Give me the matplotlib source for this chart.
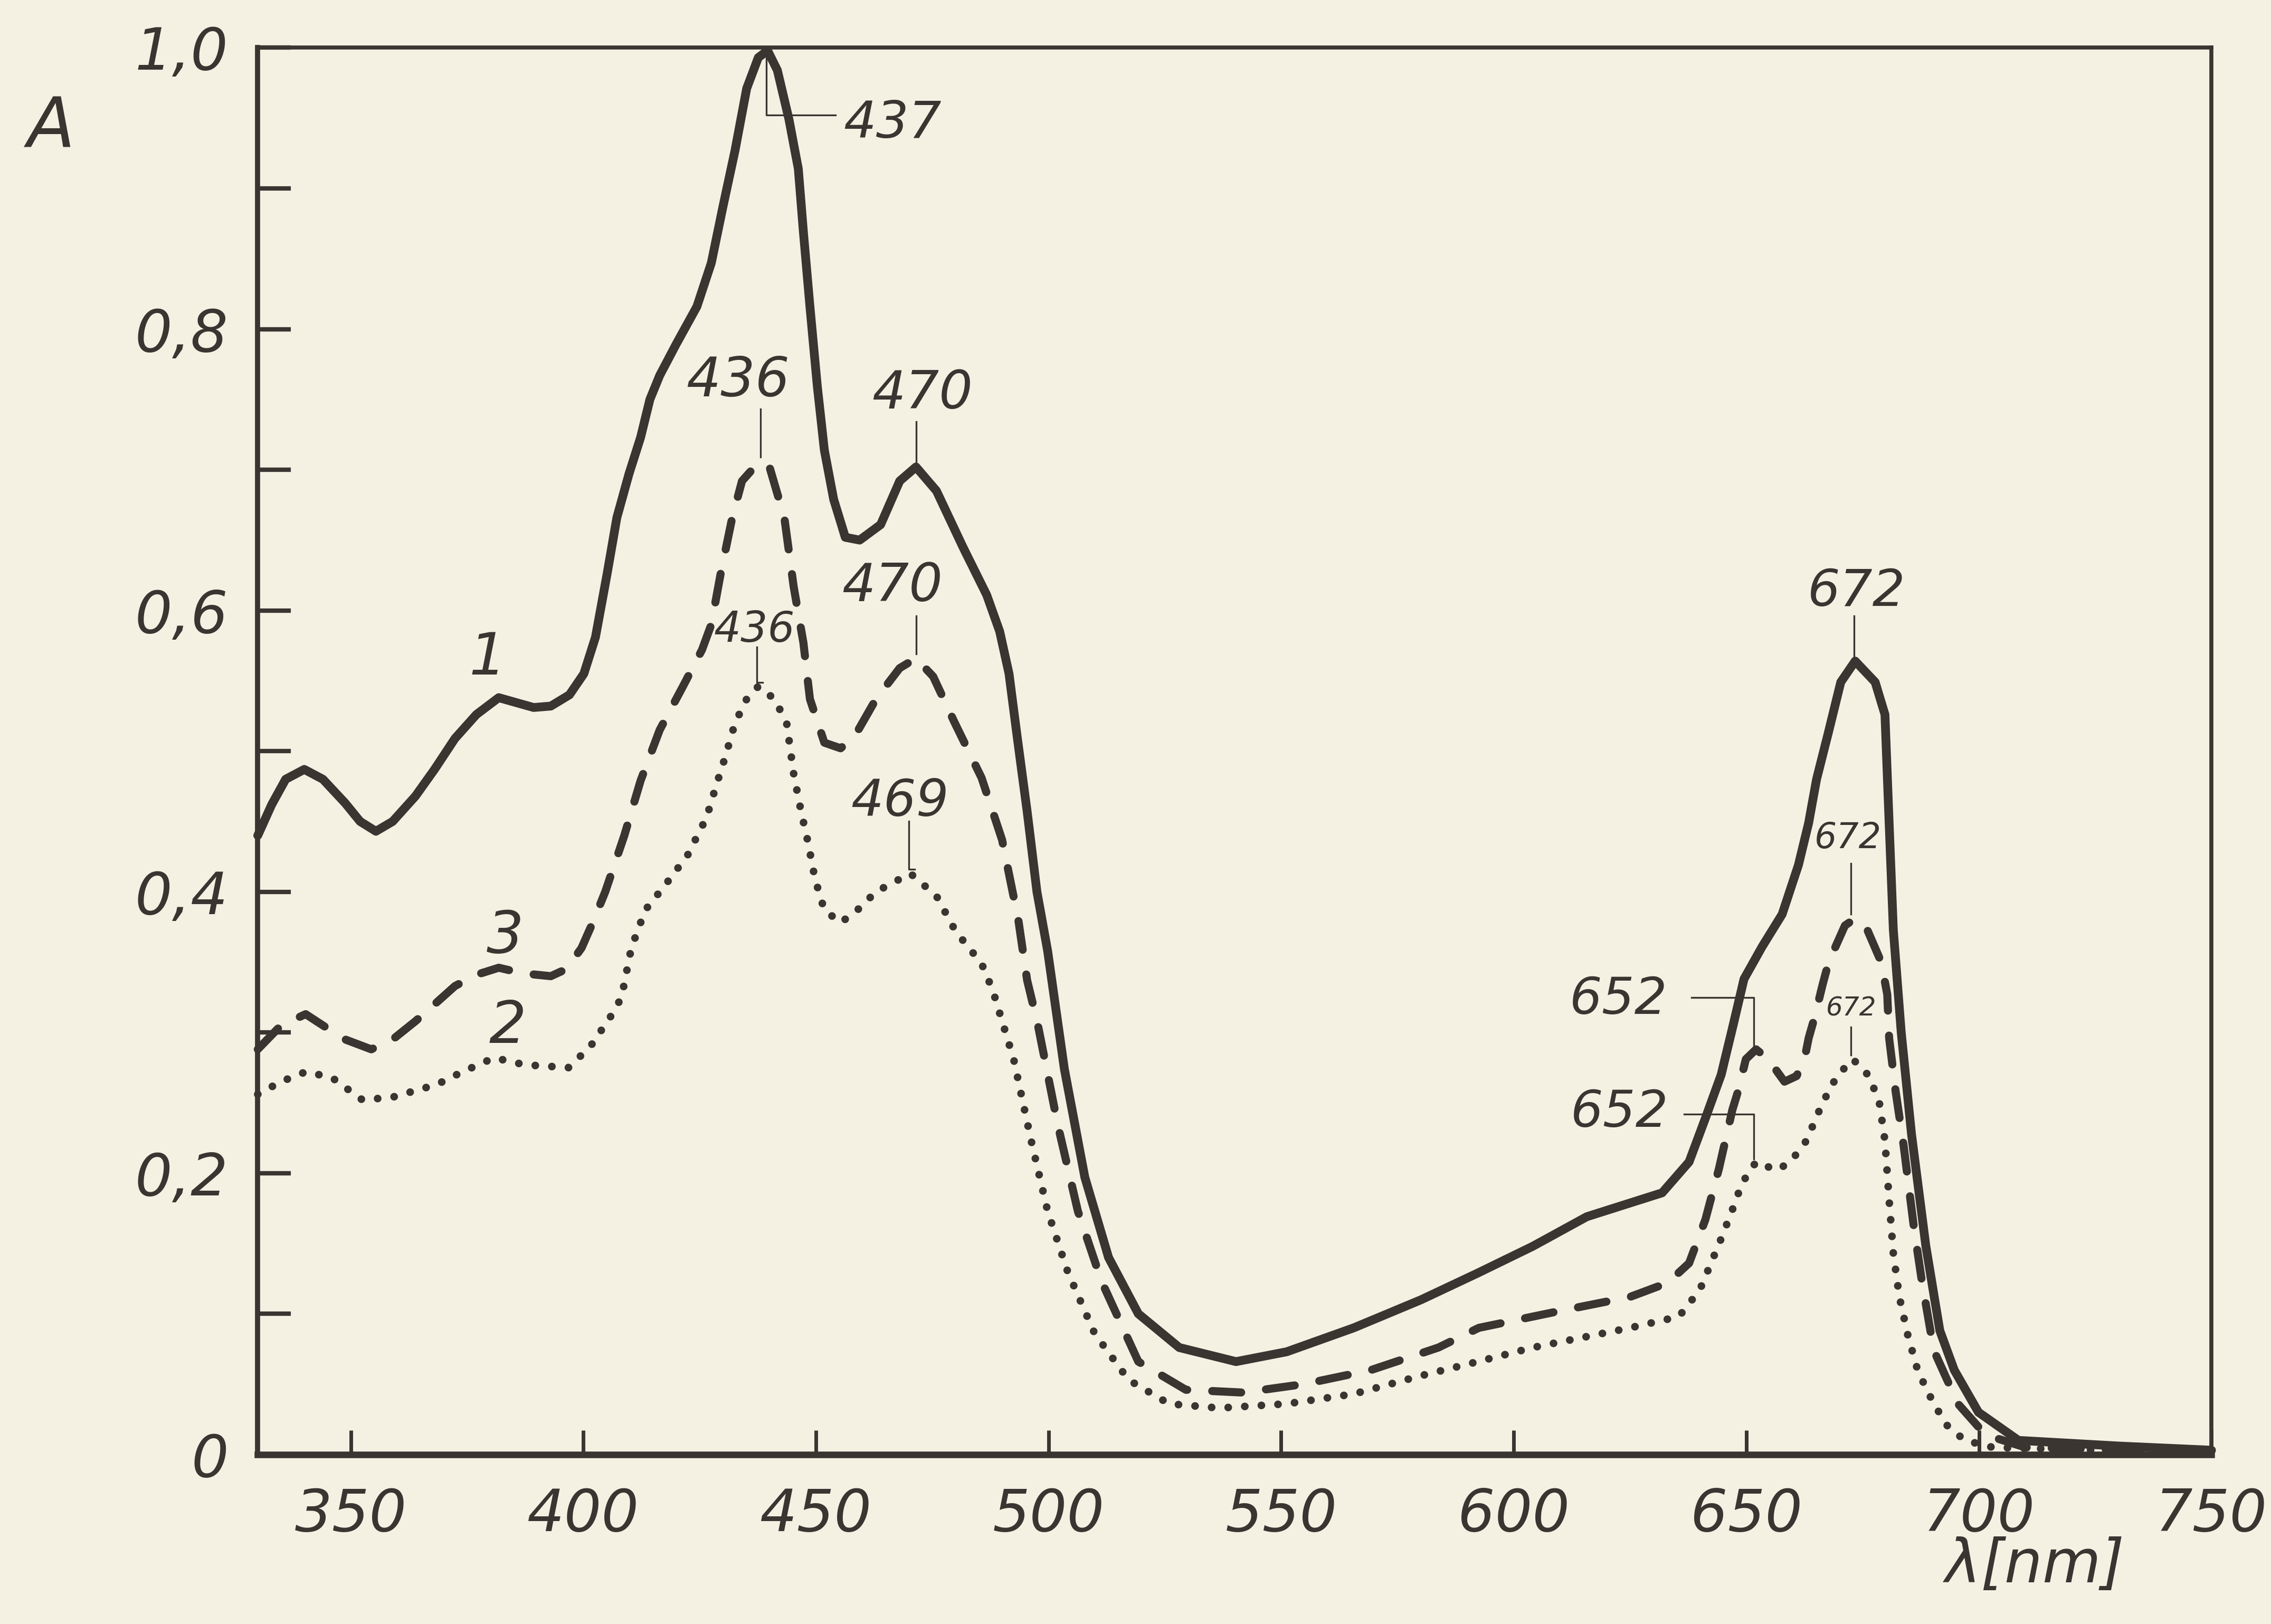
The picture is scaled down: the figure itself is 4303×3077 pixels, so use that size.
import matplotlib
matplotlib.use("Agg")
import matplotlib.pyplot as plt
from matplotlib.ticker import FixedLocator, FuncFormatter

# ---------------- data ----------------
# curve 1 (solid)
wl1 = [330, 333, 336, 340, 344, 348.8, 352, 355.4, 359, 363.9, 368, 372.4, 377, 381.8,
       385, 389.3, 393, 397, 400.1, 402.6, 405.1, 407.2, 409.8, 412.3, 414.3, 416.4,
       419.9, 424.4, 427.5, 430, 432.6, 435.1, 437.6, 439.6, 441.7, 444.2, 446.2, 447.3,
       448.7, 450.3, 451.8, 453.8, 456.3, 459.4, 463.9, 468, 471.5, 475.9, 481.6, 486.7,
       489.5, 491.5, 493.3, 495.4, 497.5, 499.8, 501.3, 503.4, 507.8, 512.9, 519.3, 528.1,
       540.3, 551.2, 565.6, 580.1, 592.3, 604.1, 615.7, 631.9, 637.7, 641.2, 644.6, 647.3,
       649.5, 653.4, 657.7, 661.2, 663.4, 665.1, 667.7, 670.3, 673.4, 677.7, 679.8, 680.7,
       681.6, 683.3, 685.5, 688.6, 691.6, 694.7, 699.9, 708.5, 730, 750]
a1 = [0.440, 0.462, 0.480, 0.487, 0.480, 0.463, 0.450, 0.443, 0.450, 0.468, 0.487, 0.509,
      0.526, 0.538, 0.535, 0.531, 0.532, 0.540, 0.555, 0.581, 0.626, 0.666, 0.697, 0.723,
      0.750, 0.767, 0.789, 0.816, 0.847, 0.887, 0.927, 0.971, 0.993, 0.998, 0.984, 0.949,
      0.914, 0.869, 0.816, 0.759, 0.714, 0.679, 0.652, 0.650, 0.661, 0.692, 0.702, 0.685,
      0.645, 0.611, 0.585, 0.555, 0.509, 0.457, 0.400, 0.358, 0.323, 0.274, 0.197, 0.140,
      0.100, 0.076, 0.066, 0.073, 0.090, 0.110, 0.129, 0.148, 0.169, 0.186, 0.208, 0.239,
      0.270, 0.307, 0.338, 0.361, 0.384, 0.419, 0.449, 0.480, 0.514, 0.549, 0.564, 0.549,
      0.526, 0.449, 0.373, 0.300, 0.228, 0.148, 0.088, 0.060, 0.030, 0.010, 0.006, 0.003]

# curve 3 (dashed)
wl3 = [330, 335, 340.3, 344, 348.8, 354.4, 359, 363.9, 368, 372.4, 377, 381.8, 387, 393,
       396.3, 399.6, 402, 404.7, 408.8, 412.3, 416.4, 421.4, 425.5, 427.5, 429.5, 432,
       434.1, 437.6, 440.1, 443.2, 445.2, 447.3, 448.7, 451.8, 455.3, 458.4, 462.9, 468,
       471.5, 475.2, 479.7, 485.6, 490, 493.5, 495.4, 497.6, 502, 506.3, 511.4, 519.3,
       529.5, 541.8, 554.9, 569.3, 583.8, 592.5, 609.9, 625, 633.1, 637.7, 641.2, 644.1,
       647, 648.2, 649.9, 652.1, 654.7, 658.2, 660.8, 662.5, 663.4, 664.7, 666.4, 667.7,
       671.2, 673.4, 676, 679, 680.3, 680.7, 682.1, 683.8, 686, 687.7, 690.3, 695.5, 701.4,
       710, 750]
a3 = [0.288, 0.305, 0.313, 0.305, 0.295, 0.288, 0.295, 0.308, 0.320, 0.333, 0.341, 0.346,
      0.342, 0.340, 0.345, 0.360, 0.378, 0.400, 0.440, 0.479, 0.515, 0.546, 0.572, 0.590,
      0.626, 0.666, 0.692, 0.705, 0.701, 0.666, 0.617, 0.577, 0.537, 0.506, 0.502, 0.511,
      0.537, 0.559, 0.566, 0.553, 0.521, 0.481, 0.437, 0.380, 0.337, 0.307, 0.234, 0.173,
      0.123, 0.066, 0.046, 0.044, 0.050, 0.060, 0.076, 0.090, 0.102, 0.112, 0.122, 0.136,
      0.167, 0.203, 0.245, 0.258, 0.281, 0.288, 0.281, 0.265, 0.269, 0.281, 0.296, 0.311,
      0.334, 0.350, 0.376, 0.381, 0.373, 0.350, 0.327, 0.296, 0.258, 0.220, 0.162, 0.124,
      0.074, 0.036, 0.014, 0.005, 0.002]

# curve 2 (dotted)
wl2 = [330, 335, 340.3, 345.9, 352.5, 359, 368.5, 374, 380.8, 387.4, 396.8, 401.5, 406.2,
       408.2, 410.3, 413.3, 417.4, 422.4, 426.5, 428.5, 430.6, 432.6, 435.1, 437.6, 441.1,
       443.7, 445.2, 446.8, 448.3, 449.8, 451.8, 455.3, 458.9, 462.9, 468, 470.3, 475.9,
       480, 485.6, 488, 492.5, 496.2, 499.8, 504.1, 509.9, 517.2, 525.9, 536.7, 551.2,
       565.6, 580.1, 592.3, 604.1, 625, 635.5, 640, 644.3, 646.9, 649.1, 652.1, 656.5,
       659.5, 662.9, 666.4, 669.5, 672.9, 676.4, 678.6, 679.8, 680.7, 681.6, 682.9, 684.7,
       686.9, 690.3, 693.3, 697, 703, 750]
a2 = [0.256, 0.265, 0.272, 0.268, 0.252, 0.254, 0.263, 0.272, 0.282, 0.277, 0.275, 0.290,
      0.313, 0.325, 0.360, 0.387, 0.404, 0.426, 0.453, 0.475, 0.497, 0.520, 0.537, 0.546,
      0.537, 0.520, 0.484, 0.457, 0.435, 0.409, 0.387, 0.378, 0.387, 0.400, 0.409, 0.413,
      0.397, 0.372, 0.349, 0.330, 0.281, 0.224, 0.173, 0.130, 0.086, 0.053, 0.036, 0.033,
      0.036, 0.043, 0.056, 0.066, 0.076, 0.090, 0.098, 0.117, 0.151, 0.173, 0.193, 0.208,
      0.202, 0.208, 0.223, 0.250, 0.269, 0.281, 0.269, 0.250, 0.223, 0.181, 0.143, 0.112,
      0.085, 0.059, 0.036, 0.020, 0.010, 0.005, 0.001]

x_ticks = [350, 400, 450, 500, 550, 600, 650, 700, 750]
y_major = [0, 0.2, 0.4, 0.6, 0.8, 1.0]
y_minor = [0.1, 0.3, 0.5, 0.7, 0.9]

# peak annotations: label, text position, font size, leader line
peak_notes = [
    ("437", 466.4, 0.946, 70, [439.3, 439.3, 454.2], [0.996, 0.952, 0.952]),
    ("436", 433.2, 0.763, 74, [438.1, 438.1], [0.743, 0.709]),
    ("470", 472.9, 0.754, 72, [471.5, 471.5], [0.734, 0.705]),
    ("470", 466.4, 0.617, 72, [471.5, 471.5], [0.596, 0.569]),
    ("436", 436.8, 0.586, 58, [437.3, 437.3, 438.5], [0.574, 0.549, 0.549]),
    ("469", 468.0, 0.464, 70, [470.0, 470.0, 471.2], [0.450, 0.416, 0.416]),
    ("672", 673.7, 0.613, 70, [673.2, 673.2], [0.596, 0.566]),
    ("672", 671.8, 0.438, 48, [672.5, 672.5], [0.420, 0.384]),
    ("672", 672.5, 0.317, 36, [672.5, 672.5], [0.304, 0.284]),
    ("652", 622.5, 0.323, 70, [638.2, 651.6, 651.6], [0.325, 0.325, 0.290]),
    ("652", 622.8, 0.243, 70, [636.6, 651.6, 651.6], [0.242, 0.242, 0.210]),
]
curve_labels = [("1", 379.4, 0.566), ("3", 383.2, 0.368), ("2", 383.7, 0.304)]

# ---------------- drawing ----------------
bg = "#F4F1E3"
ink = "#3A3531"
plt.rcParams["font.family"] = ["DejaVu Sans"]

fig = plt.figure(figsize=(43.03, 30.77), dpi=100, facecolor=bg)
ax = fig.add_axes([0.1135, 0.1044, 0.8603, 0.8662], facecolor=bg)

ax.plot(wl1, a1, color=ink, lw=12, solid_capstyle="round", solid_joinstyle="round",
        clip_on=False, zorder=3)
ax.plot(wl3, a3, color=ink, lw=11, linestyle=(0, (3.6, 3.1)), dash_capstyle="round",
        dash_joinstyle="round", clip_on=False, zorder=3)
ax.plot(wl2, a2, color=ink, lw=10.5, linestyle=(0, (0.01, 2.15)), dash_capstyle="round",
        clip_on=False, zorder=3)

for txt, tx, ty, fs, px, py in peak_notes:
    ax.plot(px, py, color=ink, lw=2.4, zorder=4, clip_on=False)
    ax.text(tx, ty, txt, fontsize=fs, style="italic", color=ink, ha="center",
            va="center", zorder=5)

for txt, tx, ty in curve_labels:
    ax.text(tx, ty, txt, fontsize=80, style="italic", color=ink, ha="center",
            va="center", zorder=5)

ax.set_xlim(330, 750)
ax.set_ylim(0, 1.0)

ax.xaxis.set_major_locator(FixedLocator(x_ticks))
ax.yaxis.set_major_locator(FixedLocator(y_major))
ax.yaxis.set_minor_locator(FixedLocator(y_minor))
ax.yaxis.set_major_formatter(FuncFormatter(lambda v, p: "0" if v == 0 else f"{v:.1f}".replace(".", ",")))
ax.xaxis.set_major_formatter(FuncFormatter(lambda v, p: f"{int(v)}"))

ax.tick_params(axis="x", which="major", direction="in", length=33, width=5, color=ink,
               labelsize=80, labelcolor=ink, pad=44, top=False)
ax.tick_params(axis="y", which="both", direction="in", length=45, width=6, color=ink,
               labelsize=80, labelcolor=ink, pad=40, right=False)
for lab in ax.get_xticklabels() + ax.get_yticklabels():
    lab.set_fontstyle("italic")

for side, w in (("left", 7), ("right", 5.5), ("top", 5.5), ("bottom", 9)):
    ax.spines[side].set_color(ink)
    ax.spines[side].set_linewidth(w)

fig.text(0.0223, 0.921, "A", fontsize=95, style="italic", color=ink, ha="center", va="center")
fig.text(0.896, 0.036, "λ[nm]", fontsize=82, style="italic", color=ink, ha="center", va="center")

fig.savefig("out.png", dpi=100, facecolor=bg)
